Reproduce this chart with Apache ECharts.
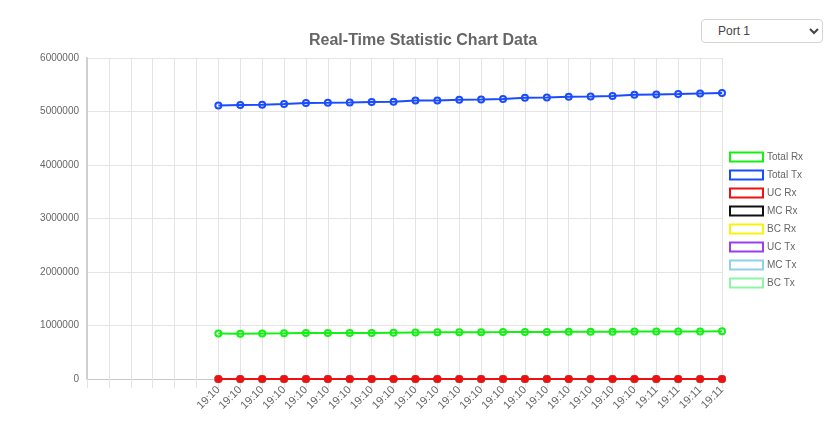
<!DOCTYPE html>
<html>
<head>
<meta charset="utf-8">
<title>Real-Time Statistic Chart Data</title>
<script src="https://cdn.jsdelivr.net/npm/echarts@6/dist/echarts.min.js"></script>
<style>
html,body{margin:0;padding:0;background:#fff;}
#wrap{position:relative;width:828px;height:426px;overflow:hidden;}
#leftLine{position:absolute;left:15px;top:3px;width:1px;height:423px;background:#e3e3e3;}
#chart{position:absolute;left:0;top:0;width:828px;height:426px;}
#portSel{position:absolute;left:701px;top:19px;width:122px;height:24px;font-family:Arial,"Liberation Sans",sans-serif;font-size:12px;color:#444;
  border:1px solid #d4d4d4;border-radius:4px;background:#fff;padding:0 0 0 12px;}
</style>
</head>
<body>
<div id="wrap">
  <div id="leftLine"></div>
  <div id="chart"></div>
  <select id="portSel"><option>Port 1</option><option>Port 2</option></select>
</div>
<script>
// 前面6个空位, 后面是采样时间
var blankCats=['','','','','',''];
var timeLabels=['19:10','19:10','19:10','19:10','19:10','19:10','19:10','19:10','19:10','19:10',
                '19:10','19:10','19:10','19:10','19:10','19:10','19:10','19:10','19:10','19:10',
                '19:11','19:11','19:11','19:11'];
var blankVals=[null,null,null,null,null,null];
var totalRx=[852000,848000,852000,853000,858000,860000,861000,862000,866000,870000,872000,874000,
             876000,877000,879000,880000,881000,883000,884000,886000,888000,888000,889000,891000];
var totalTx=[5114000,5121000,5127000,5140000,5159000,5164000,5170000,5178000,5183000,5207000,5207000,5221000,
             5226000,5234000,5258000,5264000,5277000,5282000,5290000,5314000,5320000,5327000,5338000,5346000];
var ucRx=[0,0,0,0,0,0,0,0,0,0,0,0,0,0,0,0,0,0,0,0,0,0,0,0];
var mcRx=[0,0,0,0,0,0,0,0,0,0,0,0,0,0,0,0,0,0,0,0,0,0,0,0];
var bcRx=[0,0,0,0,0,0,0,0,0,0,0,0,0,0,0,0,0,0,0,0,0,0,0,0];
var ucTx=[0,0,0,0,0,0,0,0,0,0,0,0,0,0,0,0,0,0,0,0,0,0,0,0];
var mcTx=[0,0,0,0,0,0,0,0,0,0,0,0,0,0,0,0,0,0,0,0,0,0,0,0];
var bcTx=[0,0,0,0,0,0,0,0,0,0,0,0,0,0,0,0,0,0,0,0,0,0,0,0];
var seriesNames=['Total Rx','Total Tx','UC Rx','MC Rx','BC Rx','UC Tx','MC Tx','BC Tx'];
var seriesColors=['#14f014','#1a4cff','#ee1111','#111111','#f5f50a','#9a3ff0','#8fd0ea','#8ef5a8'];
var yTicks={min:0,max:6000000,interval:1000000};

var chartService={
	makeSeries:function(name,color,vals,z,filled){
		return {
			type:'line',
			name:name,
			data:blankVals.concat(vals),
			color:color,
			z:z,
			symbol:'circle',
			symbolSize:6,
			showSymbol:true,
			lineStyle:{color:color,width:2},
			itemStyle:{color:filled?color:'rgba(255,255,255,0)',borderColor:color,borderWidth:2},
			emphasis:{disabled:true},
			animation:false
		};
	},
	show:function(){
		var myChart=echarts.init(document.getElementById('chart'),null,{renderer:'canvas'});
		var allData=[totalRx,totalTx,ucRx,mcRx,bcRx,ucTx,mcTx,bcTx];
		var series=[];
		// 画的顺序: 0值的几条线放下面, UC Rx 在最上面
		var zs=[8,9,7,2,3,4,5,6];
		for(var i=0;i<seriesNames.length;i++){
			series.push(chartService.makeSeries(seriesNames[i],seriesColors[i],allData[i],zs[i],i==2));
		}
		var legendData=[];
		for(var j=0;j<seriesNames.length;j++){
			legendData.push({name:seriesNames[j],icon:'rect',
				itemStyle:{color:'#fff',borderColor:seriesColors[j],borderWidth:2}});
		}
		var option={
			backgroundColor:'#fff',
			animation:false,
			textStyle:{fontFamily:'Arial, "Liberation Sans", sans-serif'},
			title:{
				text:'Real-Time Statistic Chart Data',
				left:304,
				top:28,
				padding:5,
				textStyle:{color:'#666',fontSize:16,fontWeight:'bold',fontFamily:'Arial, "Liberation Sans", sans-serif'}
			},
			legend:{
				orient:'vertical',
				left:729,
				top:151,
				itemWidth:33,
				itemHeight:9,
				itemGap:6,
				padding:0,
				data:legendData,
				textStyle:{color:'#666',fontSize:10,lineHeight:12,padding:[0,0,0,-1]},
				selectedMode:false
			},
			grid:{left:87,right:106,top:58,bottom:47,containLabel:false},
			xAxis:{
				type:'category',
				boundaryGap:false,
				data:blankCats.concat(timeLabels),
				axisLine:{show:true,lineStyle:{color:'#c8c8c8',width:1}},
				axisTick:{show:true,alignWithLabel:true,length:9,lineStyle:{color:'#e4e4e4'}},
				splitLine:{show:true,lineStyle:{color:'#e4e4e4',width:1}},
				axisLabel:{rotate:45,color:'#666',fontSize:11,margin:9,interval:0}
			},
			yAxis:{
				type:'value',
				min:yTicks.min,
				max:yTicks.max,
				interval:yTicks.interval,
				axisLine:{show:true,lineStyle:{color:'#cfcfcf',width:2}},
				axisTick:{show:false},
				splitLine:{show:true,lineStyle:{color:'#e4e4e4',width:1}},
				axisLabel:{color:'#666',fontSize:10,margin:8,formatter:function(v){return String(v);}}
			},
			series:series
		};
		myChart.setOption(option);
	}
};
chartService.show();
</script>
</body>
</html>
